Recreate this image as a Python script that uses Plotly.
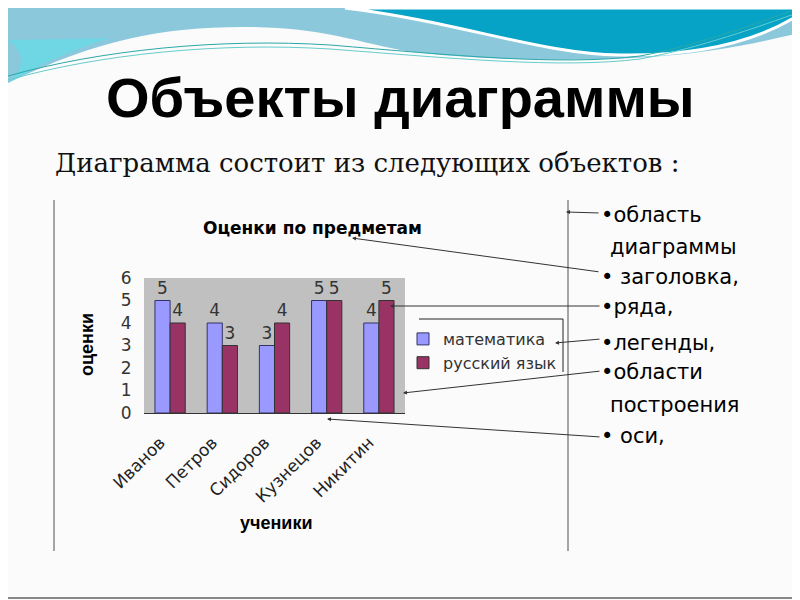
import plotly.graph_objects as go

# data
students = ["Иванов", "Петров", "Сидоров", "Кузнецов", "Никитин"]
math_marks = [5, 4, 3, 5, 4]
russian_marks = [4, 3, 4, 5, 5]
series_names = ["математика", "русский язык"]
y_ticks = [0, 1, 2, 3, 4, 5, 6]

bullets = ["•область", "диаграммы", "• заголовка,", "•ряда,", "•легенды,",
           "•области", "построения", "• оси,"]

# the page puts the figure 8px in from the corner, so map slide pixels with that offset
OFF = 8
W, H = 792, 592


def px(x):
    return (x - OFF) / W


def py(y):
    return 1 - (y - OFF) / H


def path(points):
    out = []
    for p in points:
        if isinstance(p, str):
            out.append(p)
        else:
            out.append("%.4f,%.4f" % (px(p[0]), py(p[1])))
    return " ".join(out)


fig = go.Figure()

fig.add_trace(go.Bar(x=students, y=math_marks, name=series_names[0],
                     marker=dict(color="#9999FF", line=dict(color="#333366", width=1)),
                     text=math_marks, textposition="outside", cliponaxis=False,
                     textfont=dict(family="DejaVu Sans", size=17, color="#333333")))
fig.add_trace(go.Bar(x=students, y=russian_marks, name=series_names[1],
                     marker=dict(color="#993366", line=dict(color="#333333", width=1)),
                     text=russian_marks, textposition="outside", cliponaxis=False,
                     textfont=dict(family="DejaVu Sans", size=17, color="#333333")))

shapes = []
# top wave decoration
shapes.append(dict(type="path", xref="paper", yref="paper", layer="below",
                   path=path(["M", (8, 8), "L", (800, 8), "L", (800, 33),
                              "C", (760, 42), (720, 52), (650, 57),
                              "C", (550, 63), (450, 58), (400, 50),
                              "C", (350, 40), (320, 28), (250, 27),
                              "C", (170, 26), (100, 38), (8, 83), "Z"]),
                   fillcolor="#8cc8dc", line=dict(width=0)))
shapes.append(dict(type="path", xref="paper", yref="paper", layer="below",
                   path=path(["M", (8, 40), "C", (30, 58), (20, 72), (8, 83),
                              "C", (40, 65), (70, 50), (110, 38), "Z"]),
                   fillcolor="#6fd6e4", line=dict(width=0)))
shapes.append(dict(type="path", xref="paper", yref="paper", layer="below",
                   path=path(["M", (345, 8), "L", (800, 8), "L", (800, 14),
                              "C", (760, 40), (700, 56), (620, 55),
                              "C", (540, 54), (460, 22), (345, 8), "Z"]),
                   fillcolor="#06a3c6", line=dict(color="white", width=3)))
shapes.append(dict(type="path", xref="paper", yref="paper", layer="below",
                   path=path(["M", (8, 76), "C", (100, 50), (220, 38), (330, 45),
                              "C", (450, 55), (560, 66), (640, 56),
                              "C", (700, 45), (760, 22), (800, 8)]),
                   line=dict(color="#2aa8a8", width=1)))
shapes.append(dict(type="path", xref="paper", yref="paper", layer="below",
                   path=path(["M", (8, 80), "C", (100, 54), (220, 42), (330, 49),
                              "C", (450, 58), (560, 69), (640, 59),
                              "C", (700, 48), (760, 26), (800, 12)]),
                   line=dict(color="#66cccc", width=1)))
# slide frame (right and bottom edges) and chart-area lines
shapes.append(dict(type="line", xref="paper", yref="paper", x0=px(798), x1=px(798),
                   y0=0, y1=1, line=dict(color="#888888", width=2)))
shapes.append(dict(type="line", xref="paper", yref="paper", x0=0, x1=1,
                   y0=py(598), y1=py(598), line=dict(color="#888888", width=2)))
for xv in (54, 568):
    shapes.append(dict(type="line", xref="paper", yref="paper", x0=px(xv), x1=px(xv),
                       y0=py(200), y1=py(551), line=dict(color="#888888", width=1.5)))
# legend frame (top and right edges only)
shapes.append(dict(type="line", xref="paper", yref="paper", x0=px(419), x1=px(563),
                   y0=py(319), y1=py(319), line=dict(color="#222222", width=1)))
shapes.append(dict(type="line", xref="paper", yref="paper", x0=px(563), x1=px(563),
                   y0=py(319), y1=py(372), line=dict(color="#222222", width=1)))

annotations = [
    dict(text="<b>Объекты диаграммы</b>", x=px(400), y=py(97),
         font=dict(family="Liberation Sans Narrow, Liberation Sans, Arial", size=56, color="black")),
    dict(text="Диаграмма состоит из следующих объектов :", x=px(367), y=py(163),
         font=dict(family="DejaVu Serif", size=26, color="#111111")),
    dict(text="<b>Оценки по предметам</b>", x=px(312), y=py(228),
         font=dict(family="DejaVu Sans", size=17, color="black")),
    dict(text="<b>оценки</b>", x=px(87), y=py(345), textangle=-90,
         font=dict(family="Liberation Sans", size=18, color="black")),
    dict(text="<b>ученики</b>", x=px(276), y=py(523),
         font=dict(family="Liberation Sans", size=18, color="black")),
]
bullet_y = [215, 247, 277, 307, 343, 372, 405, 436]
for t, yv in zip(bullets, bullet_y):
    x0 = 599 if t.startswith("•") else 608
    annotations.append(dict(text=t, x=px(x0), y=py(yv), xanchor="left",
                            font=dict(family="DejaVu Sans", size=21, color="black")))
for a in annotations:
    a.setdefault("xref", "paper")
    a.setdefault("yref", "paper")
    a.setdefault("xanchor", "center")
    a.setdefault("yanchor", "middle")
    a.setdefault("showarrow", False)

# pointer arrows: head (x, y) and tail (x, y) in slide pixels
arrows = [((566, 212), (600, 213)), ((352, 238), (600, 272)), ((390, 306), (601, 306)),
          ((555, 343), (601, 339)), ((403, 393), (601, 371)), ((327, 419), (601, 437))]
for (hx, hy), (tx, ty) in arrows:
    annotations.append(dict(xref="paper", yref="paper", x=px(hx), y=py(hy), ax=tx - hx, ay=ty - hy,
                            text="", showarrow=True, arrowhead=2, arrowsize=0.8, arrowwidth=1,
                            arrowcolor="#333333"))

fig.update_layout(
    width=W, height=H,
    margin=dict(l=0, r=0, t=0, b=0),
    paper_bgcolor="#fbfbfb",
    plot_bgcolor="#c0c0c0",
    barmode="group", bargap=0.42, bargroupgap=0,
    showlegend=True,
    legend=dict(x=px(403), y=py(322), xanchor="left", yanchor="top",
                bgcolor="rgba(0,0,0,0)", itemwidth=30, tracegroupgap=2,
                font=dict(family="DejaVu Sans", size=16, color="#333333")),
    shapes=shapes,
    annotations=annotations,
)
fig.update_xaxes(domain=[px(144), px(405)], automargin=False, showline=True, linecolor="#333333",
                 tickangle=-45, ticks="", showgrid=False, ticklabelstandoff=12, ticklabelshift=-10,
                 tickfont=dict(family="DejaVu Sans", size=17, color="#222222"))
fig.update_yaxes(domain=[py(413), py(278)], automargin=False, range=[0, 6], tickvals=y_ticks,
                 showgrid=False, zeroline=False, showline=False, ticks="outside", ticklen=8,
                 tickcolor="rgba(0,0,0,0)",
                 tickfont=dict(family="DejaVu Sans", size=17, color="#333333"))

fig.write_html("out.html")
